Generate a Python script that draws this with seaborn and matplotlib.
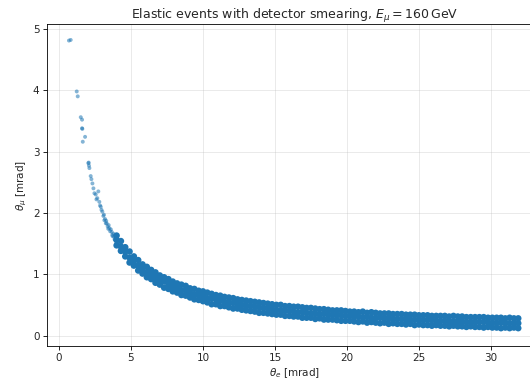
import matplotlib
matplotlib.use("Agg")
import matplotlib.pyplot as plt
import seaborn as sns
import pandas as pd

# ---- data (mrad) ----
# sparse points on the steep part of the curve
steep_theta_e = [0.69, 0.81, 1.23, 1.30, 1.51, 1.60, 1.60, 1.62, 1.81, 1.65,
                 2.04, 2.06, 2.08, 2.11, 2.20, 2.25, 2.32, 2.39, 2.46, 2.55,
                 2.60, 2.66, 2.73, 2.80, 2.85, 2.90, 2.95, 3.01, 3.08, 3.15,
                 3.20, 3.25, 3.31, 3.38, 3.45, 3.50, 3.55, 3.60, 3.66, 3.72,
                 3.78, 3.82, 3.88, 3.95, 3.98, 3.42, 3.70, 3.86, 3.28, 3.12]
steep_theta_mu = [4.81, 4.82, 3.98, 3.90, 3.56, 3.52, 3.38, 3.37, 3.24, 3.16,
                  2.81, 2.82, 2.77, 2.73, 2.60, 2.55, 2.48, 2.40, 2.32, 2.30,
                  2.22, 2.24, 2.35, 2.18, 2.12, 2.10, 2.05, 2.02, 1.95, 1.88,
                  1.90, 1.83, 1.83, 1.78, 1.80, 1.75, 1.70, 1.73, 1.69, 1.62,
                  1.66, 1.61, 1.56, 1.60, 1.52, 1.74, 1.64, 1.57, 1.87, 1.97]

# dense band: theta_e columns with lower, middle and upper theta_mu
band_theta_e = [4.0, 4.3, 4.6, 4.9, 5.2, 5.5, 5.8, 6.1, 6.4, 6.7,
                7.0, 7.3, 7.6, 7.9, 8.2, 8.5, 8.8, 9.1, 9.4, 9.7,
                10.0, 10.3, 10.6, 10.9, 11.2, 11.5, 11.8, 12.1, 12.4, 12.7,
                13.0, 13.3, 13.6, 13.9, 14.2, 14.5, 14.8, 15.1, 15.4, 15.7,
                16.0, 16.3, 16.6, 16.9, 17.2, 17.5, 17.8, 18.1, 18.4, 18.7,
                19.0, 19.3, 19.6, 19.9, 20.2, 20.5, 20.8, 21.1, 21.4, 21.7,
                22.0, 22.3, 22.6, 22.9, 23.2, 23.5, 23.8, 24.1, 24.4, 24.7,
                25.0, 25.3, 25.6, 25.9, 26.2, 26.5, 26.8, 27.1, 27.4, 27.7,
                28.0, 28.3, 28.6, 28.9, 29.2, 29.5, 29.8, 30.1, 30.4, 30.7,
                31.0, 31.3, 31.6, 31.9]
band_mu_mid = [1.56, 1.45, 1.37, 1.27, 1.22, 1.14, 1.09, 1.03, 0.99, 0.95,
               0.90, 0.88, 0.83, 0.80, 0.78, 0.74, 0.73, 0.70, 0.67, 0.66,
               0.64, 0.61, 0.60, 0.59, 0.57, 0.55, 0.54, 0.53, 0.51, 0.50,
               0.49, 0.48, 0.47, 0.46, 0.45, 0.44, 0.43, 0.42, 0.41, 0.41,
               0.40, 0.39, 0.38, 0.38, 0.37, 0.36, 0.36, 0.35, 0.35, 0.34,
               0.34, 0.33, 0.33, 0.32, 0.32, 0.31, 0.31, 0.30, 0.30, 0.29,
               0.29, 0.29, 0.28, 0.28, 0.27, 0.27, 0.27, 0.26, 0.26, 0.26,
               0.25, 0.25, 0.25, 0.25, 0.24, 0.24, 0.24, 0.23, 0.23, 0.23,
               0.23, 0.22, 0.22, 0.22, 0.22, 0.22, 0.21, 0.21, 0.21, 0.21,
               0.21, 0.20, 0.20, 0.20]
band_mu_low = [1.47, 1.38, 1.29, 1.19, 1.14, 1.06, 1.01, 0.95, 0.92, 0.86,
               0.83, 0.78, 0.76, 0.72, 0.70, 0.66, 0.65, 0.62, 0.59, 0.58,
               0.56, 0.54, 0.51, 0.51, 0.48, 0.48, 0.46, 0.44, 0.44, 0.42,
               0.41, 0.40, 0.39, 0.37, 0.37, 0.36, 0.35, 0.34, 0.34, 0.32,
               0.32, 0.31, 0.31, 0.29, 0.29, 0.29, 0.27, 0.28, 0.26, 0.26,
               0.26, 0.25, 0.24, 0.24, 0.24, 0.23, 0.22, 0.23, 0.21, 0.22,
               0.21, 0.20, 0.21, 0.19, 0.20, 0.19, 0.19, 0.18, 0.19, 0.17,
               0.18, 0.17, 0.17, 0.16, 0.17, 0.16, 0.16, 0.15, 0.16, 0.15,
               0.15, 0.14, 0.15, 0.14, 0.14, 0.13, 0.14, 0.13, 0.13, 0.12,
               0.13, 0.12, 0.13, 0.12]
band_mu_high = [1.63, 1.54, 1.44, 1.37, 1.29, 1.23, 1.16, 1.12, 1.07, 1.03,
                0.98, 0.95, 0.92, 0.88, 0.85, 0.83, 0.81, 0.77, 0.76, 0.73,
                0.72, 0.70, 0.68, 0.66, 0.65, 0.63, 0.62, 0.61, 0.59, 0.58,
                0.57, 0.56, 0.55, 0.54, 0.53, 0.52, 0.51, 0.50, 0.50, 0.48,
                0.48, 0.47, 0.47, 0.46, 0.45, 0.45, 0.44, 0.43, 0.43, 0.42,
                0.41, 0.41, 0.41, 0.40, 0.39, 0.39, 0.38, 0.39, 0.37, 0.38,
                0.37, 0.36, 0.36, 0.36, 0.35, 0.35, 0.35, 0.34, 0.34, 0.34,
                0.33, 0.33, 0.33, 0.32, 0.32, 0.32, 0.32, 0.31, 0.32, 0.31,
                0.31, 0.30, 0.30, 0.30, 0.30, 0.30, 0.29, 0.29, 0.29, 0.29,
                0.28, 0.29, 0.28, 0.28]

title = r"Elastic events with detector smearing, $E_\mu = 160\,\mathrm{GeV}$"
xlabel = r"$\theta_e$ [mrad]"
ylabel = r"$\theta_\mu$ [mrad]"
xticks = [0, 5, 10, 15, 20, 25, 30]
yticks = [0, 1, 2, 3, 4, 5]

# ---- build tables ----
steep = pd.DataFrame({"theta_e": steep_theta_e, "theta_mu": steep_theta_mu})
band = pd.DataFrame({
    "theta_e": band_theta_e * 3,
    "theta_mu": band_mu_low + band_mu_mid + band_mu_high,
})

sns.set_theme(style="white")
plt.rcParams["font.family"] = ["DejaVu Sans"]

fig = plt.figure(figsize=(5.30, 3.81), dpi=100)
ax = fig.add_axes([0.088, 0.092, 0.936, 0.845])

color = "#1f77b4"
sns.scatterplot(data=band, x="theta_e", y="theta_mu", ax=ax, s=22,
                color=color, alpha=1.0, linewidth=0, edgecolor="none")
sns.scatterplot(data=steep, x="theta_e", y="theta_mu", ax=ax, s=8,
                color=color, alpha=0.55, linewidth=0, edgecolor="none")

ax.set_xlim(-0.86, 33.6)
ax.set_ylim(-0.17, 5.08)
ax.set_xticks(xticks)
ax.set_yticks(yticks)
ax.grid(True, color="#b0b0b0", alpha=0.3, linewidth=0.6)
ax.set_axisbelow(True)
for sp in ax.spines.values():
    sp.set_color("black")
    sp.set_linewidth(0.6)
ax.tick_params(axis="both", which="major", direction="out", length=2.6,
               width=0.6, labelsize=7.5, color="black", left=True, bottom=True,
               pad=2.5)
ax.set_title(title, fontsize=9, pad=4)
ax.set_xlabel(xlabel, fontsize=7.5, labelpad=2)
ax.set_ylabel(ylabel, fontsize=7.5, labelpad=3)

fig.savefig("out.png", dpi=100)
